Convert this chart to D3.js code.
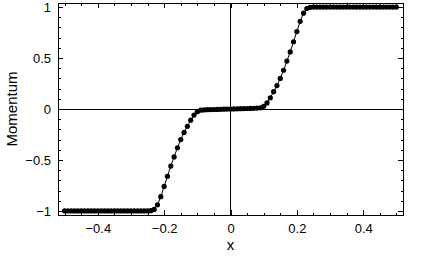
<!DOCTYPE html>
<html>
<head>
<meta charset="utf-8">
<script src="https://cdn.jsdelivr.net/npm/d3@7"></script>
<style>
  body { margin: 0; background: #fff; }
  svg { display: block; }
  text { font-family: "Liberation Sans", Arial, sans-serif; fill: #000; }
  .axis line, .frame { shape-rendering: crispEdges; }
</style>
</head>
<body>
<svg width="422" height="261"></svg>
<script>
// sampled positions
var xValues = [
  -0.50, -0.49, -0.48, -0.47, -0.46, -0.45, -0.44, -0.43, -0.42, -0.41,
  -0.40, -0.39, -0.38, -0.37, -0.36, -0.35, -0.34, -0.33, -0.32, -0.31,
  -0.30, -0.29, -0.28, -0.27, -0.26, -0.25, -0.24, -0.23, -0.22, -0.21,
  -0.20, -0.19, -0.18, -0.17, -0.16, -0.15, -0.14, -0.13, -0.12, -0.11,
  -0.10, -0.09, -0.08, -0.07, -0.06, -0.05, -0.04, -0.03, -0.02, -0.01,
   0.00,
   0.01,  0.02,  0.03,  0.04,  0.05,  0.06,  0.07,  0.08,  0.09,  0.10,
   0.11,  0.12,  0.13,  0.14,  0.15,  0.16,  0.17,  0.18,  0.19,  0.20,
   0.21,  0.22,  0.23,  0.24,  0.25,  0.26,  0.27,  0.28,  0.29,  0.30,
   0.31,  0.32,  0.33,  0.34,  0.35,  0.36,  0.37,  0.38,  0.39,  0.40,
   0.41,  0.42,  0.43,  0.44,  0.45,  0.46,  0.47,  0.48,  0.49,  0.50
];

var momentum = [
  -1, -1, -1, -1, -1, -1, -1, -1, -1, -1,
  -1, -1, -1, -1, -1, -1, -1, -1, -1, -1,
  -1, -1, -1, -1, -1, -1, -0.998, -0.985, -0.94, -0.86,
  -0.76, -0.66, -0.56, -0.47, -0.38, -0.30, -0.23, -0.17, -0.11, -0.06,
  -0.026, -0.012, -0.009, -0.007, -0.006, -0.005, -0.004, -0.003, -0.002, -0.001,
  0,
  0.001, 0.002, 0.003, 0.004, 0.005, 0.006, 0.007, 0.009, 0.012, 0.026,
  0.06, 0.11, 0.17, 0.23, 0.30, 0.38, 0.47, 0.56, 0.66, 0.76,
  0.86, 0.94, 0.985, 0.998, 1, 1, 1, 1, 1, 1,
  1, 1, 1, 1, 1, 1, 1, 1, 1, 1,
  1, 1, 1, 1, 1, 1, 1, 1, 1, 1
];

var xTicks = [-0.4, -0.2, 0, 0.2, 0.4];
var xTickLabels = ["\u22120.4", "\u22120.2", "0", "0.2", "0.4"];
var xMinor = [-0.5, -0.45, -0.35, -0.3, -0.25, -0.15, -0.1, -0.05, 0.05, 0.1, 0.15, 0.25, 0.3, 0.35, 0.45, 0.5];
var yTicks = [-1, -0.5, 0, 0.5, 1];
var yTickLabels = ["\u22121", "\u22120.5", "0", "0.5", "1"];
var yMinor = [-0.9, -0.8, -0.7, -0.6, -0.4, -0.3, -0.2, -0.1, 0.1, 0.2, 0.3, 0.4, 0.6, 0.7, 0.8, 0.9];

var svg = d3.select("svg"),
    margin = {top: 3, right: 19, bottom: 46, left: 58},
    width = +svg.attr("width") - margin.left - margin.right,
    height = +svg.attr("height") - margin.top - margin.bottom;

var g = svg.append("g")
    .attr("transform", "translate(" + margin.left + "," + margin.top + ")");

var x = d3.scaleLinear().domain([-0.52, 0.52]).range([0, width]);
var y = d3.scaleLinear().domain([-1.04, 1.04]).range([height, 0]);

var data = xValues.map(function(d, i) { return {x: d, y: momentum[i]}; });

function fmt(ticks, labels) {
  return function(d) { return labels[ticks.indexOf(d)]; };
}

// bottom
g.append("g").attr("class", "axis")
    .attr("transform", "translate(0," + height + ")")
    .call(d3.axisBottom(x).tickValues(xTicks).tickSize(-5).tickPadding(9)
      .tickFormat(fmt(xTicks, xTickLabels)));
g.append("g").attr("class", "axis")
    .attr("transform", "translate(0," + height + ")")
    .call(d3.axisBottom(x).tickValues(xMinor).tickSize(-2.5).tickFormat(""));
// top
g.append("g").attr("class", "axis")
    .call(d3.axisTop(x).tickValues(xTicks).tickSize(-5).tickFormat(""));
g.append("g").attr("class", "axis")
    .call(d3.axisTop(x).tickValues(xMinor).tickSize(-2.5).tickFormat(""));
// left
g.append("g").attr("class", "axis")
    .call(d3.axisLeft(y).tickValues(yTicks).tickSize(-5).tickPadding(7)
      .tickFormat(fmt(yTicks, yTickLabels)));
g.append("g").attr("class", "axis")
    .call(d3.axisLeft(y).tickValues(yMinor).tickSize(-2.5).tickFormat(""));
// right
g.append("g").attr("class", "axis")
    .attr("transform", "translate(" + width + ",0)")
    .call(d3.axisRight(y).tickValues(yTicks).tickSize(-5).tickFormat(""));
g.append("g").attr("class", "axis")
    .attr("transform", "translate(" + width + ",0)")
    .call(d3.axisRight(y).tickValues(yMinor).tickSize(-2.5).tickFormat(""));

g.selectAll(".axis .domain").remove();
g.selectAll(".axis text")
    .style("font-family", "'Liberation Sans', Arial, sans-serif")
    .style("font-size", "13px");
g.selectAll(".axis line").attr("stroke", "#000");

// zero axes
g.append("line")
    .attr("class", "frame")
    .attr("x1", x(0)).attr("x2", x(0))
    .attr("y1", 0).attr("y2", height)
    .attr("stroke", "#000");
g.append("line")
    .attr("class", "frame")
    .attr("x1", 0).attr("x2", width)
    .attr("y1", y(0)).attr("y2", y(0))
    .attr("stroke", "#000");

// frame
g.append("rect")
    .attr("class", "frame")
    .attr("x", 0).attr("y", 0)
    .attr("width", width).attr("height", height)
    .attr("fill", "none")
    .attr("stroke", "#000");

var line = d3.line()
    .x(function(d) { return x(d.x); })
    .y(function(d) { return y(d.y); });

g.append("path")
    .datum(data)
    .attr("fill", "none")
    .attr("stroke", "#000")
    .attr("stroke-width", 1)
    .attr("d", line);

g.selectAll(".dot")
    .data(data)
    .enter().append("circle")
    .attr("class", "dot")
    .attr("cx", function(d) { return x(d.x); })
    .attr("cy", function(d) { return y(d.y); })
    .attr("r", 2.6)
    .attr("fill", "#000");

// labels
svg.append("text")
    .attr("x", margin.left + x(0))
    .attr("y", 250)
    .attr("text-anchor", "middle")
    .style("font-size", "15px")
    .text("x");

svg.append("text")
    .attr("transform", "translate(17," + (margin.top + height / 2) + ") rotate(-90)")
    .attr("text-anchor", "middle")
    .style("font-size", "15px")
    .text("Momentum");
</script>
</body>
</html>
